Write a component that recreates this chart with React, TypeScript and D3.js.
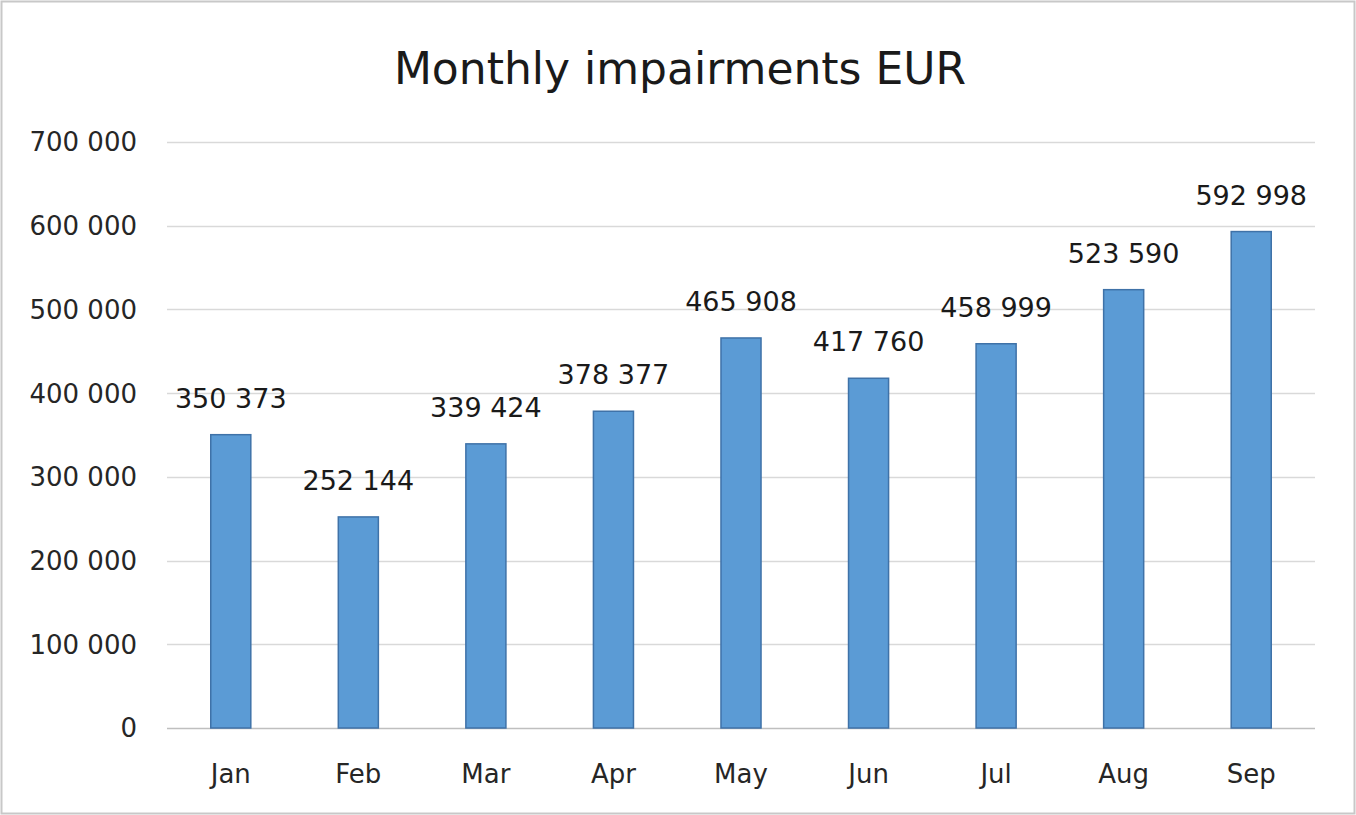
import * as d3 from 'd3';
import { useEffect, useRef } from 'react';

const months = ['Jan', 'Feb', 'Mar', 'Apr', 'May', 'Jun', 'Jul', 'Aug', 'Sep'];
const impairments = [350373, 252144, 339424, 378377, 465908, 417760, 458999, 523590, 592998];
const yTicks = [0, 100000, 200000, 300000, 400000, 500000, 600000, 700000];

const fmt = (v: number) => d3.format(',')(v).replace(/,/g, ' ');

const App = () => {
  const svgRef = useRef<SVGSVGElement | null>(null);

  useEffect(() => {
    const width = 1356;
    const height = 815;
    const left = 167;
    const right = 1315;
    const top = 142;
    const bottom = 728;
    const font = '"DejaVu Sans", "Open Sans", sans-serif';

    const svg = d3.select(svgRef.current)
      .attr('width', width)
      .attr('height', height);
    svg.selectAll('*').remove();

    // background + frame
    svg.append('rect')
      .attr('x', 1.5).attr('y', 1.5)
      .attr('width', width - 3).attr('height', height - 3)
      .attr('fill', '#fff')
      .attr('stroke', '#c8c8c8')
      .attr('stroke-width', 2);

    const x = d3.scaleBand().domain(months).range([left, right]).paddingInner(0.686).paddingOuter(0.343);
    const y = d3.scaleLinear().domain([0, 700000]).range([bottom, top]);

    // title
    svg.append('text')
      .attr('x', 680).attr('y', 84)
      .attr('text-anchor', 'middle')
      .attr('font-family', font)
      .attr('font-size', 44)
      .attr('fill', '#1a1a1a')
      .text('Monthly impairments EUR');

    // gridlines
    svg.append('g')
      .selectAll('line')
      .data(yTicks)
      .enter()
      .append('line')
      .attr('x1', left).attr('x2', right)
      .attr('y1', (d) => Math.round(y(d)) + 0.5)
      .attr('y2', (d) => Math.round(y(d)) + 0.5)
      .attr('stroke', (d) => (d === 0 ? '#bfbfbf' : '#d9d9d9'))
      .attr('stroke-width', 1.5);

    // y tick labels
    svg.append('g')
      .selectAll('text')
      .data(yTicks)
      .enter()
      .append('text')
      .attr('x', 137)
      .attr('y', (d) => y(d))
      .attr('dy', '0.36em')
      .attr('text-anchor', 'end')
      .attr('font-family', font)
      .attr('font-size', 26)
      .attr('fill', '#262626')
      .text((d) => fmt(d));

    // bars
    svg.append('g')
      .selectAll('rect')
      .data(impairments)
      .enter()
      .append('rect')
      .attr('x', (_d, i) => x(months[i])!)
      .attr('y', (d) => y(d))
      .attr('width', x.bandwidth())
      .attr('height', (d) => bottom - y(d))
      .attr('fill', '#5b9bd5')
      .attr('stroke', '#3f72a8')
      .attr('stroke-width', 1.5);

    // data labels
    svg.append('g')
      .selectAll('text')
      .data(impairments)
      .enter()
      .append('text')
      .attr('x', (_d, i) => x(months[i])! + x.bandwidth() / 2)
      .attr('y', (d) => y(d) - 27)
      .attr('text-anchor', 'middle')
      .attr('font-family', font)
      .attr('font-size', 27)
      .attr('fill', '#1a1a1a')
      .text((d) => fmt(d));

    // month labels
    svg.append('g')
      .selectAll('text')
      .data(months)
      .enter()
      .append('text')
      .attr('x', (d) => x(d)! + x.bandwidth() / 2)
      .attr('y', 783)
      .attr('text-anchor', 'middle')
      .attr('font-family', font)
      .attr('font-size', 26)
      .attr('fill', '#262626')
      .text((d) => d);
  }, []);

  return (
    <div style={{ position: 'absolute', left: 0, top: 0 }}>
      <svg ref={svgRef} />
    </div>
  );
};

export default App;
